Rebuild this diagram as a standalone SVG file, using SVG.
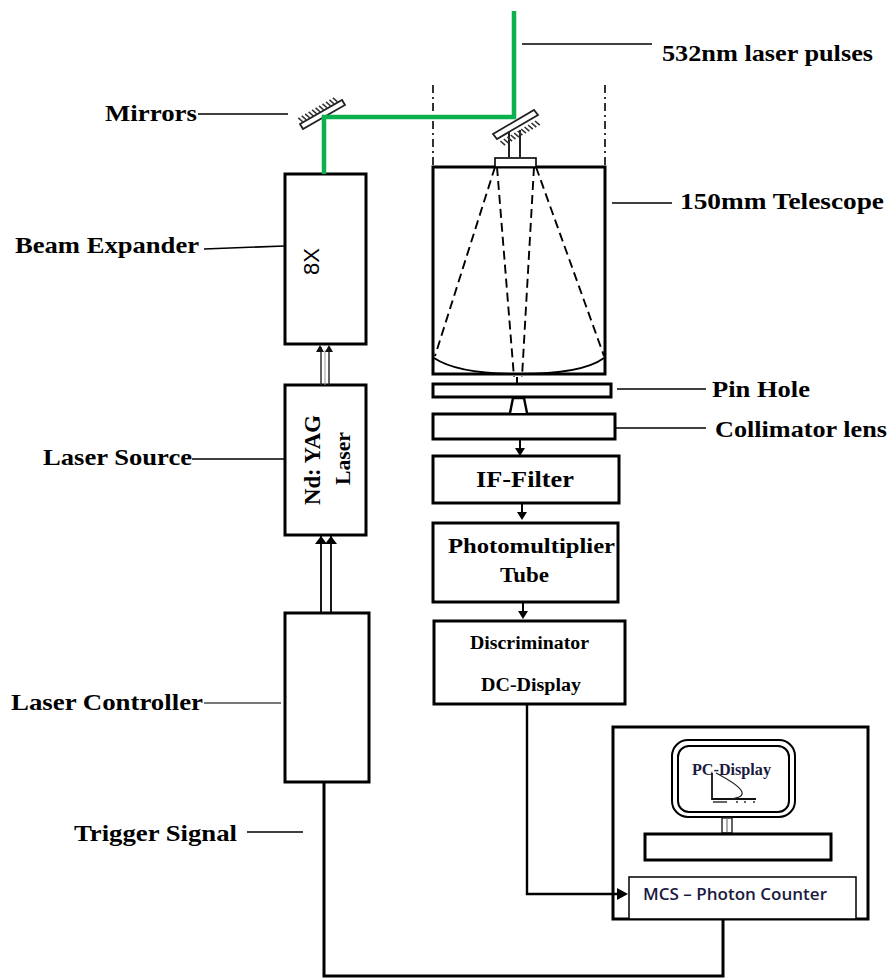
<svg xmlns="http://www.w3.org/2000/svg" width="890" height="978" viewBox="0 0 890 978">
<style>
.b{fill:#fff;stroke:#000;stroke-width:3}
.t{font-family:"Liberation Serif",serif;font-weight:bold;fill:#000}
.l{font-size:24px}
.l2{stroke:#000;stroke-width:1.6;fill:none}
.w{stroke:#000;stroke-width:3;fill:none}
.g{stroke:#0cb04e;stroke-width:4.5;fill:none}
.d{stroke:#000;stroke-width:1.9;fill:none;stroke-dasharray:9 5}
.c{stroke:#000;stroke-width:1.6;fill:none;stroke-dasharray:8 4 2 4}
</style>
<defs>
<g id="hatch"><path d="M0 0l-2-6M4 0l-2-6M8 0l-2-6M12 0l-2-6M16 0l-2-6M20 0l-2-6M24 0l-2-6M28 0l-2-6M32 0l-2-6M36 0l-2-6M40 0l-2-6" stroke="#333" stroke-width="1.6" fill="none"/></g>
</defs>
<rect width="890" height="978" fill="#fff"/>
<g id="mirror-left"><path d="M300 124L342 100L345 105L303 129Z" fill="#fff" stroke="#222" stroke-width="1.8"/><use href="#hatch" transform="translate(303 122) rotate(-30)"/></g>
<g id="mirror-right">
<path d="M509 157V132M520 157V130" stroke="#222" stroke-width="2"/>
<path d="M493 134L534 110L538 115L497 139Z" fill="#fff" stroke="#222" stroke-width="1.8"/><use href="#hatch" transform="translate(535 121) rotate(150)"/>
</g>
<g id="telescope">
<rect class="b" x="433" y="167" width="172" height="207"/>
<rect x="495" y="158" width="41" height="9" fill="#fff" stroke="#000" stroke-width="1.6"/>
<path d="M434 358C455 372 490 374 519 374S585 372 604 358" fill="none" stroke="#000" stroke-width="1.8"/>
<path class="d" d="M495 167L435 356M536 167L604 356M497 167L514 377M534 167L522 377"/>
</g>
<g id="pinhole"><rect class="b" x="433" y="384" width="178" height="13"/></g>
<g id="collimator"><rect class="b" x="433" y="414" width="182" height="25"/></g>
<g id="iffilter"><rect class="b" x="433" y="456" width="186" height="47"/><text class="t" x="476" y="487" font-size="24" textLength="98" lengthAdjust="spacingAndGlyphs">IF-Filter</text></g>
<g id="pmt"><rect class="b" x="433" y="523" width="185" height="79"/><text class="t" x="448" y="553" font-size="20" textLength="167" lengthAdjust="spacingAndGlyphs">Photomultiplier</text><text class="t" x="500" y="582" font-size="20" textLength="49" lengthAdjust="spacingAndGlyphs">Tube</text></g>
<g id="disc"><rect class="b" x="434" y="621" width="191" height="83"/><text class="t" x="470" y="649" font-size="18" textLength="119" lengthAdjust="spacingAndGlyphs">Discriminator</text><text class="t" x="481" y="691" font-size="18" textLength="100" lengthAdjust="spacingAndGlyphs">DC-Display</text></g>
<g id="expander"><rect class="b" x="285" y="174" width="81" height="170"/><text transform="translate(319 275) rotate(-90)" font-family="Liberation Sans,sans-serif" font-size="22" textLength="27" lengthAdjust="spacingAndGlyphs">8X</text></g>
<g id="laser"><rect class="b" x="285" y="385" width="81" height="150"/><text class="t" font-size="23" textLength="90" lengthAdjust="spacingAndGlyphs" transform="translate(320 505) rotate(-90)">Nd: YAG</text><text class="t" font-size="20" textLength="53" lengthAdjust="spacingAndGlyphs" transform="translate(350 485) rotate(-90)">Laser</text></g>
<g id="controller"><rect class="b" x="285" y="613" width="84" height="169"/></g>
<g id="pc">
<rect class="b" x="613" y="727" width="255" height="192"/>
<rect x="672" y="740" width="123" height="77" rx="16" fill="#fff" stroke="#000" stroke-width="2"/>
<rect x="678" y="746" width="111" height="66" rx="11" fill="#fff" stroke="#000" stroke-width="2"/>
<rect x="722" y="818" width="10" height="15" fill="#fff" stroke="#222" stroke-width="1.4"/>
<path d="M727 818V833" stroke="#777" stroke-width="1.2"/>
<rect class="b" x="645" y="834" width="186" height="26"/>
<path d="M712 773V799H756" stroke="#111" stroke-width="1.8" fill="none"/>
<path d="M716 773Q760 796 730 799" stroke="#222" stroke-width="1.2" fill="none"/>
<path d="M713 802h14M736 802h2M744 802h2M753 802h2" stroke="#333" stroke-width="1.6"/>
<text x="692" y="775" font-family="Liberation Serif,serif" font-size="16" font-weight="bold" textLength="79" lengthAdjust="spacingAndGlyphs" fill="#1a1a40">PC-Display</text>
<rect x="629" y="877" width="227" height="42" fill="#fff" stroke="#000" stroke-width="1.5"/>
<text x="643" y="900" font-family="Open Sans,Liberation Sans,sans-serif" font-size="16" font-weight="600" textLength="184" lengthAdjust="spacingAndGlyphs" fill="#1a1a40">MCS – Photon Counter</text>
</g>
<g id="connectors">
<path class="c" d="M433 85V167M605 85V167"/>
<path class="g" d="M514 11V117H324V174"/>
<path class="l2" d="M522 44H652M198 114H288M612 203H672M204 249L284 246M192 459H285M247 832H303M617 389H706M615 428H706"/>
<path d="M204 703H281" stroke="#777" stroke-width="2" fill="none"/>
<path d="M321 385V347M329 385V347" stroke="#222" stroke-width="1.4" fill="none"/>
<path d="M325 385V350" stroke="#999" stroke-width="1" fill="none"/>
<path d="M316 352L320 345L324 352ZM325 352L329 345L333 352Z" fill="#111"/>
<path d="M321 613V536M331 613V536" stroke="#000" stroke-width="1.8" fill="none"/>
<path d="M315 544L321 536L327 544ZM325 544L331 536L337 544Z" fill="#000"/>
<path class="w" d="M324 782V976H723V919"/>
<path d="M527 704V894H620" stroke="#000" stroke-width="2.4" fill="none"/>
<path d="M617 888L628 894L617 900Z" fill="#000"/>
<path d="M517 377V384M520 396V398" stroke="#000" stroke-width="2" fill="none"/>
<path d="M510 413L513 398H524L527 413" fill="#fff" stroke="#000" stroke-width="2.4"/>
<path d="M520 439V450" stroke="#000" stroke-width="2"/><path d="M515 448H525L520 456Z" fill="#000"/>
<path d="M522 503V514" stroke="#000" stroke-width="2"/><path d="M517 512H527L522 520Z" fill="#000"/>
<path d="M523 602V613" stroke="#000" stroke-width="2"/><path d="M518 611H528L523 619Z" fill="#000"/>
</g>
<g id="labels">
<text class="t l" x="105" y="121" textLength="92" lengthAdjust="spacingAndGlyphs">Mirrors</text>
<text class="t l" x="15" y="253" textLength="184" lengthAdjust="spacingAndGlyphs">Beam Expander</text>
<text class="t l" x="43" y="465" textLength="149" lengthAdjust="spacingAndGlyphs">Laser Source</text>
<text class="t l" x="11" y="710" textLength="192" lengthAdjust="spacingAndGlyphs">Laser Controller</text>
<text class="t l" x="74" y="841" textLength="163" lengthAdjust="spacingAndGlyphs">Trigger Signal</text>
<text class="t l" x="662" y="61" textLength="211" lengthAdjust="spacingAndGlyphs">532nm laser pulses</text>
<text class="t l" x="680" y="209" textLength="204" lengthAdjust="spacingAndGlyphs">150mm Telescope</text>
<text class="t l" x="712" y="397" textLength="98" lengthAdjust="spacingAndGlyphs">Pin Hole</text>
<text class="t l" x="715" y="437" textLength="172" lengthAdjust="spacingAndGlyphs">Collimator lens</text>
</g>
</svg>
